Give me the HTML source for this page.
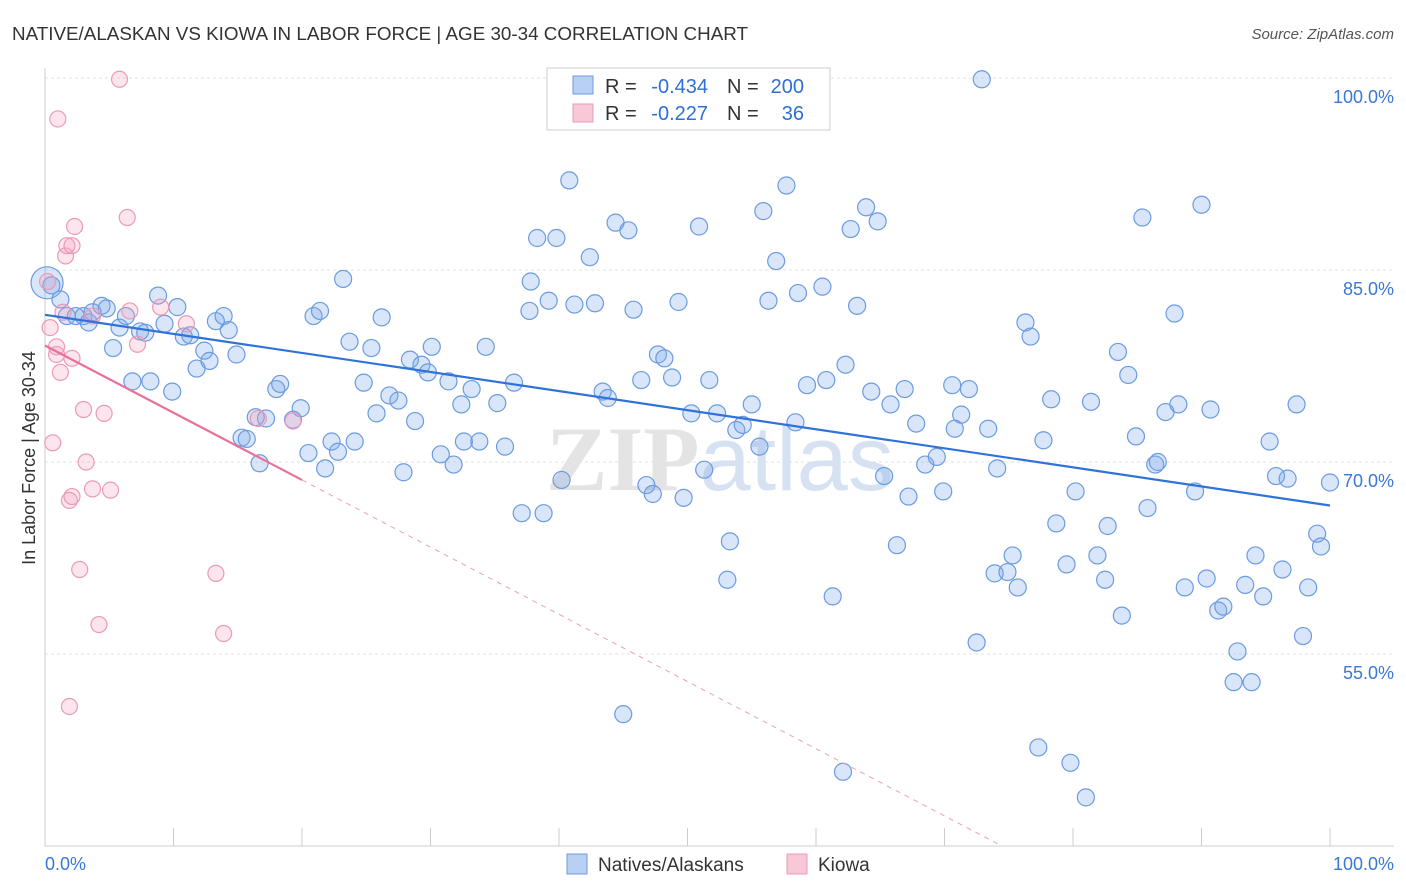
<!DOCTYPE html>
<html><head><meta charset="utf-8">
<style>
body{margin:0;background:#fff;font-family:"Liberation Sans",sans-serif;}
svg{display:block}
</style></head>
<body>
<svg id="chart" width="1406" height="892">
<text x="12" y="40" font-size="18" fill="#333" textLength="736" lengthAdjust="spacingAndGlyphs">NATIVE/ALASKAN VS KIOWA IN LABOR FORCE | AGE 30-34 CORRELATION CHART</text>
<text x="1394" y="39" font-size="15" fill="#555" font-style="italic" text-anchor="end">Source: ZipAtlas.com</text>
<text x="35" y="458" font-size="18" fill="#333" text-anchor="middle" transform="rotate(-90 35 458)">In Labor Force | Age 30-34</text>
<g id="grid"></g>
<text x="720" y="490" font-size="92" fill="#e4e4e4" text-anchor="middle" font-family="Liberation Serif" font-weight="bold">ZIP<tspan fill="#d6e2f2" font-family="Liberation Sans" font-weight="normal">atlas</tspan></text>
<g id="pts"></g>
<g id="trend"></g>
<g>
<rect x="547" y="68" width="283" height="62" fill="#fff" stroke="#ccc"/>
<rect x="573" y="76" width="20" height="18" fill="#b8d0f4" stroke="#6b9be0"/>
<rect x="573" y="104" width="20" height="18" fill="#f9c8d6" stroke="#e89ab4"/>
<g font-size="20" fill="#333">
<text x="605" y="93">R =</text>
<text x="708" y="93" text-anchor="end" fill="#2f6fd6">-0.434</text>
<text x="727" y="93">N =</text>
<text x="804" y="93" text-anchor="end" fill="#2f6fd6">200</text>
<text x="605" y="120">R =</text>
<text x="708" y="120" text-anchor="end" fill="#2f6fd6">-0.227</text>
<text x="727" y="120">N =</text>
<text x="804" y="120" text-anchor="end" fill="#2f6fd6">36</text>
</g>
</g>
<g>
<rect x="567" y="854" width="20" height="20" fill="#b8d0f4" stroke="#6b9be0"/>
<text x="598" y="871" font-size="19" fill="#333">Natives/Alaskans</text>
<rect x="787" y="854" width="20" height="20" fill="#f9c8d6" stroke="#e89ab4"/>
<text x="818" y="871" font-size="19" fill="#333">Kiowa</text>
</g>
<text x="45" y="870" font-size="18" fill="#3a78d8">0.0%</text>
<text x="1394" y="870" font-size="18" fill="#3a78d8" text-anchor="end">100.0%</text>
</svg>
<script>
const blueX=[0.16,0.5,1.2,1.7,2.4,3.0,3.4,3.7,4.4,4.8,5.3,5.8,6.3,6.8,7.4,7.8,8.2,8.8,9.3,9.9,10.3,10.8,11.3,11.8,12.4,12.8,13.3,13.9,14.3,14.9,15.3,15.7,16.4,16.7,17.2,18.0,18.3,19.3,19.9,20.5,20.9,21.4,21.8,22.3,22.8,23.2,23.7,24.1,24.8,25.4,25.8,26.2,26.8,27.5,27.9,28.4,28.8,29.3,29.8,30.1,30.8,31.4,31.8,32.4,32.6,33.2,33.8,34.3,35.2,35.8,36.5,37.1,37.7,37.8,38.3,38.8,39.2,39.8,40.2,40.8,41.2,42.4,42.8,43.4,43.8,44.4,45.0,45.4,45.8,46.4,46.8,47.3,47.7,48.2,48.8,49.3,49.7,50.3,50.9,51.3,51.7,52.3,53.3,53.1,53.8,54.3,55.0,55.6,55.9,56.3,56.9,57.7,58.4,58.6,59.3,60.2,60.5,60.8,61.3,62.1,62.3,62.7,63.2,63.9,64.3,64.8,65.3,65.8,66.3,66.9,67.2,67.8,68.5,69.4,69.9,70.6,70.8,71.3,71.9,72.5,72.9,73.4,74.1,73.9,74.9,75.3,75.7,76.3,76.7,77.3,77.7,78.3,78.7,79.5,79.8,80.2,81.0,81.4,81.9,82.5,82.7,83.5,83.8,84.3,84.9,85.4,85.8,86.4,86.6,87.2,87.9,88.2,88.7,89.5,90.0,90.4,90.7,91.3,91.7,92.8,92.5,93.4,93.9,94.2,94.8,95.3,95.8,96.3,96.7,97.4,97.9,98.3,99.0,99.3,100];
const blueY=[84.0,83.8,82.7,81.4,81.4,81.4,80.9,81.7,82.2,82.0,78.9,80.5,81.4,76.3,80.2,80.1,76.3,83.0,80.8,75.5,82.1,79.8,79.9,77.3,78.7,77.9,81.0,81.4,80.3,78.4,71.9,71.8,73.5,69.9,73.4,75.7,76.1,73.3,74.2,70.7,81.4,81.8,69.5,71.6,70.8,84.3,79.4,71.6,76.2,78.9,73.8,81.3,75.2,74.8,69.2,78.0,73.2,77.6,77.0,79.0,70.6,76.3,69.8,74.5,71.6,75.7,71.6,79.0,74.6,71.2,76.2,66.0,81.8,84.1,87.5,66.0,82.6,87.5,68.6,92.0,82.3,86.0,82.4,75.5,75.0,88.7,50.3,88.1,81.9,76.4,68.2,67.5,78.4,78.1,76.6,82.5,67.2,73.8,88.4,69.4,76.4,73.8,63.8,60.8,72.5,72.9,74.5,71.2,89.6,82.6,85.7,91.6,73.1,83.2,76.0,100.1,83.7,76.4,59.5,45.8,77.6,88.2,82.2,89.9,75.5,88.8,68.9,74.5,63.5,75.7,67.3,73.0,69.8,70.4,67.7,76.0,72.6,73.7,75.7,55.9,99.9,72.6,69.5,61.3,61.4,62.7,60.2,80.9,79.8,47.7,71.7,74.9,65.2,62.0,46.5,67.7,43.8,74.7,62.7,60.8,65.0,78.6,58.0,76.8,72.0,89.1,66.4,69.8,70.0,73.9,81.6,74.5,60.2,67.7,90.1,60.9,74.1,58.4,58.7,55.2,52.8,60.4,52.8,62.7,59.5,71.6,68.9,61.6,68.7,74.5,56.4,60.2,64.4,63.4,68.4];
const pinkX=[0.2,0.4,0.6,0.9,0.9,1.2,1.0,1.4,1.6,1.7,1.9,2.1,2.1,2.1,2.3,2.7,3.0,3.2,3.7,3.7,4.2,4.6,5.1,5.8,6.4,6.6,7.2,9.0,11.0,13.3,13.9,16.6,19.3,1.9];
const pinkY=[84.1,80.5,71.5,78.4,79.0,77.0,96.8,81.7,86.1,86.9,67.0,78.1,67.3,86.9,88.4,61.6,74.1,70.0,67.9,81.4,57.3,73.8,67.8,99.9,89.1,81.8,79.2,82.1,80.8,61.3,56.6,73.4,73.2,50.9];
const yTicks=[100,85,70,55];
const xTicks=[0,10,20,30,40,50,60,70,80,90,100];
const blueTrend=[81.5,66.6];
const pinkTrend=[79.1,68.6,20];

const NS='http://www.w3.org/2000/svg';
const X=v=>45+v*12.85;
const Y=v=>78+(100-v)*12.8;
function mk(tag,attrs,parent){const e=document.createElementNS(NS,tag);for(const k in attrs)e.setAttribute(k,attrs[k]);parent.appendChild(e);return e;}
const grid=document.getElementById('grid');
yTicks.forEach(t=>{
  const l=mk('line',{x1:45,x2:1394,y1:Y(t),y2:Y(t),stroke:'#e2e2e2','stroke-dasharray':'3,3'},grid);
  
  
  const tx=mk('text',{x:1394,y:Y(t)+25,'font-size':18,fill:'#3a78d8','text-anchor':'end'},grid);
  tx.textContent=t.toFixed(1)+'%';
  
  
});
const ax=mk('line',{x1:45,x2:45,y1:68,y2:846,stroke:'#ccc'},grid);


const bx=mk('line',{x1:45,x2:1394,y1:846,y2:846,stroke:'#ccc'},grid);


xTicks.forEach(t=>{
  const l=mk('line',{x1:X(t),x2:X(t),y1:828,y2:846,stroke:'#ccc'},grid);
  
  
});
const pts=document.getElementById('pts');
blueX.forEach((x,i)=>{
  const c=mk('circle',{cx:X(x),cy:Y(blueY[i]),r:i===0?16:8.5,fill:'rgba(120,165,235,0.28)',stroke:'#6b9be0','stroke-width':1.2},pts);
  
  
});
pinkX.forEach((x,i)=>{
  const c=mk('circle',{cx:X(x),cy:Y(pinkY[i]),r:8,fill:'rgba(245,160,190,0.28)',stroke:'#eb9ab6','stroke-width':1.2},pts);
  
  
});
const tr=document.getElementById('trend');
const bl=mk('line',{x1:X(0),y1:Y(blueTrend[0]),x2:X(100),y2:Y(blueTrend[1]),stroke:'#2f72d8','stroke-width':2.2},tr);


const slope=(pinkTrend[1]-pinkTrend[0])/pinkTrend[2];
const pl=mk('line',{x1:X(0),y1:Y(pinkTrend[0]),x2:X(pinkTrend[2]),y2:Y(pinkTrend[1]),stroke:'#e8709a','stroke-width':2.2},tr);


const xEnd=(40-pinkTrend[0])/slope;
const pd=mk('line',{x1:X(pinkTrend[2]),y1:Y(pinkTrend[1]),x2:X(xEnd),y2:Y(40),stroke:'#eba0b8','stroke-width':1,'stroke-dasharray':'5,5'},tr);


</script>
</body></html>
